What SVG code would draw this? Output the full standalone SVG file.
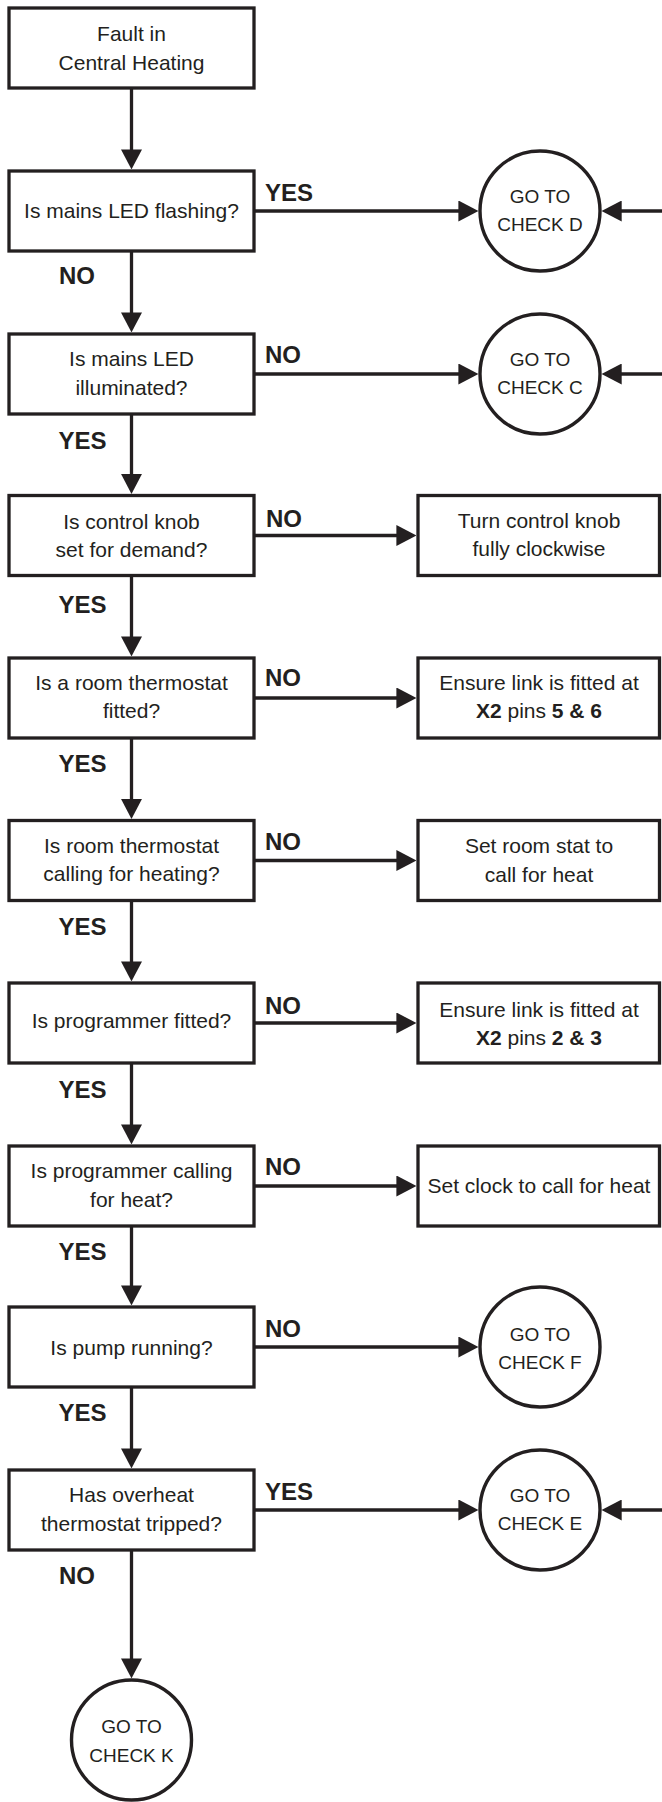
<svg xmlns="http://www.w3.org/2000/svg" width="662" height="1802" viewBox="0 0 662 1802">
<style>
.box{fill:#fff;stroke:#231f20;stroke-width:3.3}
.circ{fill:#fff;stroke:#231f20;stroke-width:3.4}
.ln{fill:none;stroke:#231f20;stroke-width:3.3;marker-end:url(#ah)}
.t{font-family:"Liberation Sans",Arial,sans-serif;font-size:21px;fill:#231f20;text-anchor:middle}
.c{font-family:"Liberation Sans",Arial,sans-serif;font-size:19px;fill:#231f20;text-anchor:middle}
.lb{font-family:"Liberation Sans",Arial,sans-serif;font-size:24px;font-weight:bold;fill:#231f20}
.b{font-weight:bold}
</style>
<defs>
<marker id="ah" markerUnits="userSpaceOnUse" markerWidth="20" markerHeight="21" refX="2" refY="10.5" orient="auto">
<path d="M0,0 L20,10.5 L0,21 Z" fill="#231f20"/>
</marker>
</defs>
<rect width="662" height="1802" fill="#fff"/>

<g id="connectors">
<line class="ln" x1="131.5" y1="88" x2="131.5" y2="151.4"/>
<line class="ln" x1="131.5" y1="251" x2="131.5" y2="314.4"/>
<line class="ln" x1="131.5" y1="414" x2="131.5" y2="475.9"/>
<line class="ln" x1="131.5" y1="575.5" x2="131.5" y2="638.4"/>
<line class="ln" x1="131.5" y1="738" x2="131.5" y2="800.9"/>
<line class="ln" x1="131.5" y1="900.5" x2="131.5" y2="963.4"/>
<line class="ln" x1="131.5" y1="1063" x2="131.5" y2="1126.4"/>
<line class="ln" x1="131.5" y1="1226" x2="131.5" y2="1287.4"/>
<line class="ln" x1="131.5" y1="1387" x2="131.5" y2="1450.4"/>
<line class="ln" x1="131.5" y1="1550" x2="131.5" y2="1660.4"/>

<line class="ln" x1="254" y1="211" x2="460.4" y2="211"/>
<line class="ln" x1="254" y1="374" x2="460.4" y2="374"/>
<line class="ln" x1="254" y1="535.5" x2="398.4" y2="535.5"/>
<line class="ln" x1="254" y1="698" x2="398.4" y2="698"/>
<line class="ln" x1="254" y1="860.5" x2="398.4" y2="860.5"/>
<line class="ln" x1="254" y1="1023" x2="398.4" y2="1023"/>
<line class="ln" x1="254" y1="1186" x2="398.4" y2="1186"/>
<line class="ln" x1="254" y1="1347" x2="460.4" y2="1347"/>
<line class="ln" x1="254" y1="1510" x2="460.4" y2="1510"/>

<line class="ln" x1="668" y1="211" x2="619.7" y2="211"/>
<line class="ln" x1="668" y1="374" x2="619.7" y2="374"/>
<line class="ln" x1="668" y1="1510" x2="619.7" y2="1510"/>

<text class="lb" x="265" y="201">YES</text>
<text class="lb" x="265" y="363">NO</text>
<text class="lb" x="266" y="527">NO</text>
<text class="lb" x="265" y="685.5">NO</text>
<text class="lb" x="265" y="849.5">NO</text>
<text class="lb" x="265" y="1013.5">NO</text>
<text class="lb" x="265" y="1175">NO</text>
<text class="lb" x="265" y="1336.5">NO</text>
<text class="lb" x="265" y="1500">YES</text>

<text class="lb" x="59" y="283.5">NO</text>
<text class="lb" x="58.5" y="449">YES</text>
<text class="lb" x="58.5" y="612.7">YES</text>
<text class="lb" x="58.5" y="771.7">YES</text>
<text class="lb" x="58.5" y="935">YES</text>
<text class="lb" x="58.5" y="1098.3">YES</text>
<text class="lb" x="58.5" y="1260">YES</text>
<text class="lb" x="58.5" y="1420.5">YES</text>
<text class="lb" x="59" y="1584.3">NO</text>
</g>

<g id="start">
<rect class="box" x="9" y="8" width="245" height="80"/>
<text class="t" x="131.5" y="41">Fault in</text>
<text class="t" x="131.5" y="70">Central Heating</text>
</g>
<g id="q-flashing">
<rect class="box" x="9" y="171" width="245" height="80"/>
<text class="t" x="131.5" y="218">Is mains LED flashing?</text>
</g>
<g id="q-illuminated">
<rect class="box" x="9" y="334" width="245" height="80"/>
<text class="t" x="131.5" y="366">Is mains LED</text>
<text class="t" x="131.5" y="394.5">illuminated?</text>
</g>
<g id="q-knob">
<rect class="box" x="9" y="495.5" width="245" height="80"/>
<text class="t" x="131.5" y="528.5">Is control knob</text>
<text class="t" x="131.5" y="557">set for demand?</text>
</g>
<g id="q-thermostat-fitted">
<rect class="box" x="9" y="658" width="245" height="80"/>
<text class="t" x="131.5" y="689.5">Is a room thermostat</text>
<text class="t" x="131.5" y="718">fitted?</text>
</g>
<g id="q-thermostat-calling">
<rect class="box" x="9" y="820.5" width="245" height="80"/>
<text class="t" x="131.5" y="852.7">Is room thermostat</text>
<text class="t" x="131.5" y="881">calling for heating?</text>
</g>
<g id="q-programmer-fitted">
<rect class="box" x="9" y="983" width="245" height="80"/>
<text class="t" x="131.5" y="1027.5">Is programmer fitted?</text>
</g>
<g id="q-programmer-calling">
<rect class="box" x="9" y="1146" width="245" height="80"/>
<text class="t" x="131.5" y="1178.3">Is programmer calling</text>
<text class="t" x="131.5" y="1206.7">for heat?</text>
</g>
<g id="q-pump">
<rect class="box" x="9" y="1307" width="245" height="80"/>
<text class="t" x="131.5" y="1355">Is pump running?</text>
</g>
<g id="q-overheat">
<rect class="box" x="9" y="1470" width="245" height="80"/>
<text class="t" x="131.5" y="1502.3">Has overheat</text>
<text class="t" x="131.5" y="1530.7">thermostat tripped?</text>
</g>

<g id="a-knob">
<rect class="box" x="418" y="495.5" width="241.5" height="80"/>
<text class="t" x="539" y="528">Turn control knob</text>
<text class="t" x="539" y="556">fully clockwise</text>
</g>
<g id="a-link56">
<rect class="box" x="418" y="658" width="241.5" height="80"/>
<text class="t" x="539" y="689.5">Ensure link is fitted at</text>
<text class="t" x="539" y="718.3"><tspan class="b">X2</tspan> pins <tspan class="b">5 &amp; 6</tspan></text>
</g>
<g id="a-roomstat">
<rect class="box" x="418" y="820.5" width="241.5" height="80"/>
<text class="t" x="539" y="853">Set room stat to</text>
<text class="t" x="539" y="881.5">call for heat</text>
</g>
<g id="a-link23">
<rect class="box" x="418" y="983" width="241.5" height="80"/>
<text class="t" x="539" y="1016.5">Ensure link is fitted at</text>
<text class="t" x="539" y="1045"><tspan class="b">X2</tspan> pins <tspan class="b">2 &amp; 3</tspan></text>
</g>
<g id="a-clock">
<rect class="box" x="418" y="1146" width="241.5" height="80"/>
<text class="t" x="539" y="1193.3">Set clock to call for heat</text>
</g>

<g id="check-d">
<circle class="circ" cx="540" cy="211" r="60"/>
<text class="c" x="540" y="202.7">GO TO</text>
<text class="c" x="540" y="230.7">CHECK D</text>
</g>
<g id="check-c">
<circle class="circ" cx="540" cy="374" r="60"/>
<text class="c" x="540" y="365.7">GO TO</text>
<text class="c" x="540" y="394.3">CHECK C</text>
</g>
<g id="check-f">
<circle class="circ" cx="540" cy="1347" r="60"/>
<text class="c" x="540" y="1340.5">GO TO</text>
<text class="c" x="540" y="1369">CHECK F</text>
</g>
<g id="check-e">
<circle class="circ" cx="540" cy="1510" r="60"/>
<text class="c" x="540" y="1501.7">GO TO</text>
<text class="c" x="540" y="1530">CHECK E</text>
</g>
<g id="check-k">
<circle class="circ" cx="131.5" cy="1740" r="60"/>
<text class="c" x="131.5" y="1733.3">GO TO</text>
<text class="c" x="131.5" y="1761.7">CHECK K</text>
</g>
</svg>
